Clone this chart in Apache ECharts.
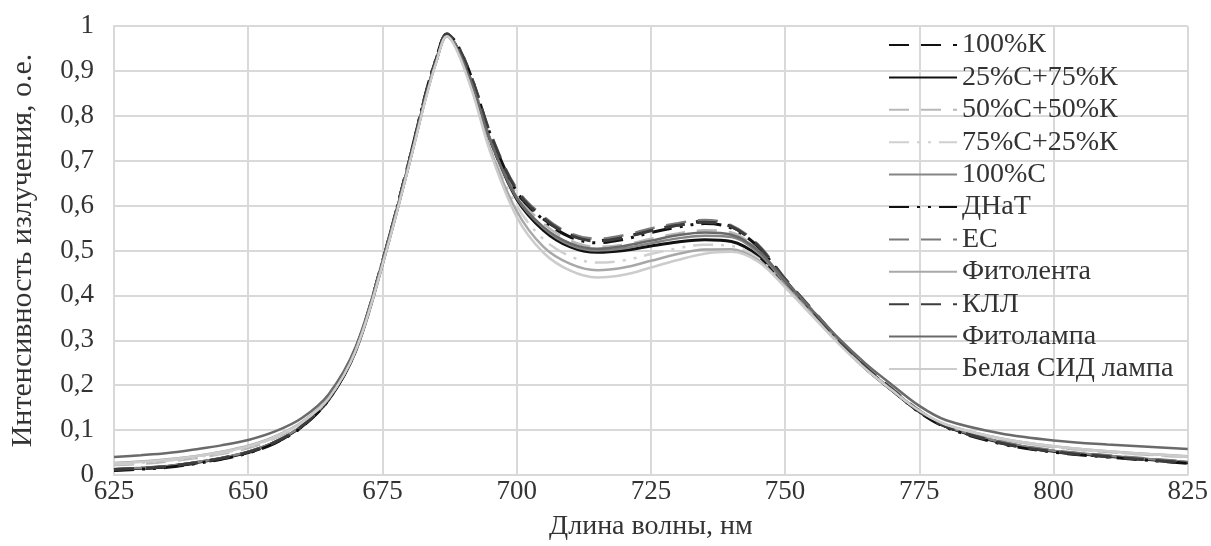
<!DOCTYPE html>
<html><head><meta charset="utf-8">
<script src="https://cdn.jsdelivr.net/npm/echarts@6/dist/echarts.min.js"></script>
<style>html,body{margin:0;padding:0;background:#fff}#c{width:1211px;height:546px}</style>
</head><body><div id="c"></div>
<script>
const wavelengths = [625,630,635,640,645,650,655,660,665,670,675,680,683,685,687,689,692,695,700,705,710,715,720,725,730,735,740,745,750,755,760,765,770,775,780,790,800,810,825];
const xTicks = [625,650,675,700,725,750,775,800,825];
const yTicks = [0,0.1,0.2,0.3,0.4,0.5,0.6,0.7,0.8,0.9,1];
const seriesNames = ["100%К","25%С+75%К","50%С+50%К","75%С+25%К","100%С","ДНаТ","ЕС","Фитолента","КЛЛ","Фитолампа","Белая СИД лампа"];
const K100 = [0.011,0.014,0.018,0.026,0.036,0.050,0.072,0.108,0.170,0.280,0.475,0.700,0.845,0.925,0.982,0.955,0.870,0.760,0.630,0.570,0.535,0.522,0.530,0.545,0.557,0.565,0.553,0.510,0.435,0.368,0.300,0.240,0.190,0.142,0.108,0.072,0.052,0.041,0.027];
const C25K75 = [0.012,0.015,0.019,0.027,0.037,0.051,0.073,0.109,0.168,0.276,0.470,0.695,0.840,0.922,0.980,0.950,0.862,0.748,0.615,0.545,0.508,0.496,0.500,0.510,0.519,0.524,0.520,0.488,0.425,0.360,0.295,0.237,0.188,0.141,0.108,0.073,0.053,0.042,0.028];
const C50K50 = [0.022,0.025,0.030,0.037,0.047,0.060,0.082,0.115,0.172,0.280,0.472,0.698,0.842,0.923,0.980,0.952,0.866,0.755,0.625,0.560,0.522,0.508,0.513,0.526,0.538,0.545,0.540,0.500,0.430,0.364,0.298,0.240,0.190,0.143,0.111,0.080,0.062,0.051,0.039];
const C75K25 = [0.024,0.027,0.032,0.039,0.049,0.062,0.084,0.116,0.172,0.278,0.470,0.695,0.838,0.920,0.978,0.946,0.852,0.735,0.600,0.525,0.487,0.473,0.478,0.492,0.505,0.513,0.510,0.483,0.422,0.358,0.294,0.237,0.188,0.142,0.111,0.080,0.062,0.051,0.040];
const C100 = [0.013,0.016,0.020,0.028,0.038,0.052,0.074,0.110,0.170,0.278,0.472,0.697,0.842,0.923,0.980,0.950,0.862,0.750,0.618,0.550,0.512,0.500,0.505,0.516,0.527,0.533,0.530,0.495,0.428,0.362,0.296,0.238,0.189,0.142,0.109,0.074,0.054,0.043,0.029];
const DNaT = [0.010,0.013,0.017,0.025,0.035,0.049,0.071,0.107,0.168,0.279,0.475,0.702,0.847,0.927,0.983,0.957,0.872,0.762,0.632,0.568,0.530,0.517,0.525,0.540,0.552,0.560,0.550,0.508,0.434,0.366,0.298,0.238,0.188,0.140,0.106,0.070,0.051,0.040,0.026];
const EC = [0.013,0.016,0.020,0.028,0.038,0.052,0.074,0.110,0.171,0.281,0.476,0.702,0.846,0.926,0.983,0.958,0.874,0.766,0.638,0.576,0.538,0.526,0.534,0.549,0.561,0.568,0.556,0.513,0.438,0.370,0.302,0.242,0.192,0.144,0.110,0.075,0.055,0.044,0.030];
const Fitolenta = [0.027,0.030,0.035,0.042,0.052,0.065,0.086,0.118,0.172,0.278,0.470,0.695,0.838,0.920,0.978,0.944,0.848,0.728,0.588,0.508,0.470,0.456,0.462,0.477,0.492,0.502,0.503,0.478,0.420,0.357,0.294,0.237,0.188,0.143,0.112,0.082,0.064,0.053,0.042];
const KLL = [0.012,0.015,0.019,0.027,0.037,0.051,0.073,0.109,0.170,0.280,0.475,0.701,0.846,0.926,0.982,0.956,0.871,0.763,0.634,0.572,0.534,0.521,0.529,0.544,0.556,0.563,0.553,0.510,0.436,0.368,0.300,0.240,0.190,0.142,0.108,0.072,0.052,0.041,0.027];
const Fitolampa = [0.040,0.044,0.049,0.057,0.066,0.078,0.097,0.127,0.180,0.285,0.476,0.698,0.840,0.921,0.978,0.948,0.860,0.748,0.618,0.552,0.516,0.504,0.510,0.522,0.534,0.540,0.535,0.500,0.433,0.368,0.304,0.248,0.200,0.154,0.122,0.093,0.077,0.068,0.058];
const Belaya = [0.026,0.029,0.034,0.041,0.051,0.064,0.085,0.117,0.171,0.277,0.468,0.692,0.835,0.918,0.977,0.942,0.844,0.722,0.575,0.495,0.455,0.440,0.446,0.462,0.479,0.493,0.497,0.475,0.418,0.355,0.292,0.236,0.188,0.143,0.112,0.082,0.064,0.053,0.041];

const allValues = [K100,C25K75,C50K50,C75K25,C100,DNaT,EC,Fitolenta,KLL,Fitolampa,Belaya];
const styles = [
  {color:'#111111', width:3, type:[20,12]},
  {color:'#111111', width:3, type:'solid'},
  {color:'#b8b8b8', width:2.5, type:[20,12]},
  {color:'#d0d0d0', width:2.5, type:[20,8,3,8,3,8]},
  {color:'#858585', width:2.5, type:'solid'},
  {color:'#111111', width:3, type:[20,8,3,8,3,8]},
  {color:'#7a7a7a', width:2.5, type:[20,12]},
  {color:'#a8a8a8', width:2.5, type:'solid'},
  {color:'#3c3c3c', width:3, type:[20,12]},
  {color:'#6a6a6a', width:2.5, type:'solid'},
  {color:'#cccccc', width:2.5, type:'solid'}
];
const font = '"Liberation Serif","Times New Roman",serif';
const chart = echarts.init(document.getElementById('c'), null, {renderer:'canvas'});
const series = seriesNames.map((n,i)=>({
  name:n, type:'line', smooth:0.35, symbol:'none', showSymbol:false,
  data: wavelengths.map((w,j)=>[w, allValues[i][j]]),
  lineStyle: styles[i], itemStyle:{color:styles[i].color},
  emphasis:{disabled:true}
}));
chart.setOption({
  animation:false,
  backgroundColor:'#ffffff',
  grid:{left:113, right:22, top:26, bottom:68, containLabel:false},
  legend:{
    orient:'vertical', left:883, top:26, itemWidth:68, itemHeight:12, itemGap:4.4,
    data: seriesNames,
    itemStyle:{opacity:0},
    textStyle:{fontFamily:font, fontSize:28, color:'#333'}
  },
  xAxis:{
    type:'value', min:xTicks[0], max:xTicks[xTicks.length-1], interval:25,
    name:'Длина волны, нм', nameLocation:'middle', nameGap:38,
    nameTextStyle:{fontFamily:font, fontSize:28, color:'#333'},
    axisLine:{show:true, lineStyle:{color:'#d9d9d9', width:2}},
    axisTick:{show:false},
    axisLabel:{fontFamily:font, fontSize:27, color:'#333', margin:3},
    splitLine:{show:true, lineStyle:{color:'#d9d9d9', width:2}}
  },
  yAxis:{
    type:'value', min:yTicks[0], max:yTicks[yTicks.length-1], interval:0.1,
    name:'Интенсивность излучения, о.е.', nameLocation:'middle', nameGap:76,
    nameTextStyle:{fontFamily:font, fontSize:30, color:'#333'},
    axisLine:{show:true, lineStyle:{color:'#d9d9d9', width:2}},
    axisTick:{show:false},
    axisLabel:{fontFamily:font, fontSize:27, color:'#333', margin:20,
      formatter:v=>String(Math.round(v*10)/10).replace('.',',')},
    splitLine:{show:true, lineStyle:{color:'#d9d9d9', width:2}}
  },
  series: series
});
</script></body></html>
